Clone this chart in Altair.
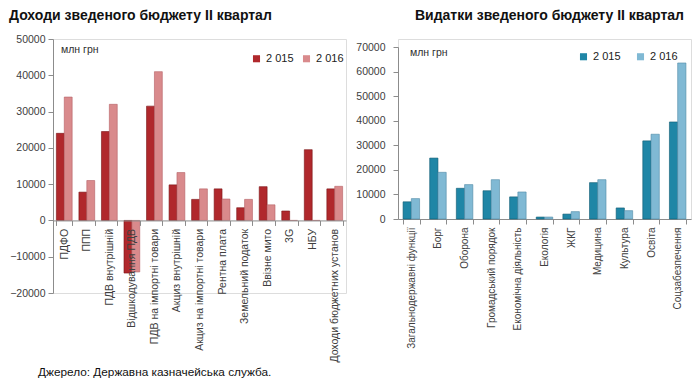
import altair as alt
import pandas as pd

years = ["2 015", "2 016"]

rev_cats = ["ПДФО", "ППП", "ПДВ внутрішній", "Відшкодування ПДВ", "ПДВ на імпортні товари",
            "Акциз внутрішній", "Акциз  на імпортні товари", "Рентна плата", "Земельний податок",
            "Ввізне мито", "3G", "НБУ", "Доходи бюджетних установ"]
rev_2015 = [24000, 7800, 24500, -14500, 31500, 9800, 5800, 8700, 3500, 9300, 2600, 19500, 8700]
rev_2016 = [34000, 11000, 32000, -14200, 41000, 13200, 8700, 5900, 5800, 4300, 0, 0, 9400]

exp_cats = ["Загальнодержавні функції", "Борг", "Оборона", "Громадський порядок",
            "Економічна діяльність", "Екологія", "ЖКГ", "Медицина", "Культура", "Освіта",
            "Соцзабезпечення"]
exp_2015 = [7000, 24800, 12500, 11500, 9000, 800, 2000, 14800, 4500, 31800, 39500]
exp_2016 = [8300, 19000, 14000, 16000, 11000, 800, 3000, 16000, 3400, 34500, 63500]

rev_df = pd.DataFrame({
    "cat": rev_cats * 2,
    "year": [years[0]] * len(rev_cats) + [years[1]] * len(rev_cats),
    "value": rev_2015 + rev_2016,
})
exp_df = pd.DataFrame({
    "cat": exp_cats * 2,
    "year": [years[0]] * len(exp_cats) + [years[1]] * len(exp_cats),
    "value": exp_2015 + exp_2016,
})

FONT = "Liberation Sans"
LABEL_COLOR = "#404040"
AXIS_COLOR = "#8c8c8c"


def text_layer(txt, x, y, size, align="left", weight="normal", color="#303030",
               baseline="middle"):
    return alt.Chart(pd.DataFrame({"t": [txt]})).mark_text(
        align=align, baseline=baseline, fontSize=size, font=FONT, color=color,
        fontWeight=weight
    ).encode(text="t:N", x=alt.value(x), y=alt.value(y))


# ---------- left chart ----------
LH = 254
LW = 293
left_bars = alt.Chart(rev_df).mark_bar(strokeWidth=0.6).encode(
    x=alt.X("cat:N", sort=rev_cats, title=None,
            scale=alt.Scale(paddingInner=0.3, paddingOuter=0.15),
            axis=alt.Axis(labelAngle=270, labelFontSize=10.5, labelColor=LABEL_COLOR,
                          labelFont=FONT, tickBand="extent", domainColor=AXIS_COLOR,
                          tickColor=AXIS_COLOR, offset=-LH * 2 / 7, labelPadding=3,
                          labelLimit=200, zindex=1)),
    xOffset=alt.XOffset("year:N", sort=years),
    y=alt.Y("value:Q", title=None,
            scale=alt.Scale(domain=[-20000, 50000], nice=False),
            axis=alt.Axis(values=[-20000, -10000, 0, 10000, 20000, 30000, 40000, 50000],
                          format="d", grid=False, labelFontSize=10.5, labelFont=FONT,
                          labelColor=LABEL_COLOR, domainColor=AXIS_COLOR, tickColor=AXIS_COLOR,
                          tickSize=5, labelPadding=3)),
    color=alt.Color("year:N", sort=years,
                    scale=alt.Scale(domain=years, range=["#b0282c", "#d98a8c"]),
                    legend=alt.Legend(title=None, orient="none", direction="horizontal",
                                      legendX=198, legendY=14, symbolType="square",
                                      symbolSize=50, labelFontSize=11, labelFont=FONT,
                                      labelColor="#222222", columnPadding=7,
                                      symbolStrokeWidth=0)),
    stroke=alt.Stroke("year:N", sort=years,
                      scale=alt.Scale(domain=years, range=["#7a1416", "#b66064"]),
                      legend=None),
)

left = alt.layer(
    left_bars,
    text_layer("млн грн", 8, 11, 10.5),
    text_layer("Доходи зведеного бюджету II квартал", -44, -23, 14, weight="bold",
               color="#111111"),
    text_layer("Джерело: Державна казначейська служба.", -15, 337, 11.8,
               color="#111111", baseline="alphabetic"),
).properties(width=LW, height=LH)

# ---------- right chart ----------
RTOP = 8
RH = 172
RW = 293
right_bars = alt.Chart(exp_df).mark_bar(strokeWidth=0.6).encode(
    x=alt.X("cat:N", sort=exp_cats, title=None,
            scale=alt.Scale(paddingInner=0.38, paddingOuter=0.19),
            axis=alt.Axis(labelAngle=270, labelFontSize=10, labelColor=LABEL_COLOR,
                          labelFont=FONT, tickBand="extent", domainColor=AXIS_COLOR,
                          tickColor=AXIS_COLOR, labelPadding=3, labelLimit=200)),
    xOffset=alt.XOffset("year:N", sort=years),
    y=alt.Y("value:Q", title=None,
            scale=alt.Scale(domain=[0, 70000], nice=False, range=[RH + RTOP, RTOP]),
            axis=alt.Axis(values=[0, 10000, 20000, 30000, 40000, 50000, 60000, 70000],
                          format="d", grid=False, labelFontSize=10.5, labelFont=FONT,
                          labelColor=LABEL_COLOR, domainColor=AXIS_COLOR, tickColor=AXIS_COLOR,
                          tickSize=5, labelPadding=8)),
    color=alt.Color("year:N", sort=years,
                    scale=alt.Scale(domain=years, range=["#1f86a6", "#80b9d4"]),
                    legend=alt.Legend(title=None, orient="none", direction="horizontal",
                                      legendX=180, legendY=12, symbolType="square",
                                      symbolSize=50, labelFontSize=11, labelFont=FONT,
                                      labelColor="#222222", columnPadding=14,
                                      symbolStrokeWidth=0)),
    stroke=alt.Stroke("year:N", sort=years,
                      scale=alt.Scale(domain=years, range=["#0f5a72", "#4f8aa6"]),
                      legend=None),
)

right = alt.layer(
    right_bars,
    text_layer("млн грн", 12, 14, 10.5),
    text_layer("Видатки зведеного бюджету II квартал", RW - 7, -23, 14, align="right",
               weight="bold", color="#111111"),
).properties(width=RW, height=RH + RTOP)

chart = alt.hconcat(left, right, spacing=8).resolve_scale(
    color="independent", stroke="independent", x="independent", y="independent",
    xOffset="independent"
).resolve_legend(color="independent", stroke="independent").properties(
    padding={"left": 0, "top": 0, "right": 0, "bottom": 0}
).configure_view(stroke=None).configure(background="white")

chart.save("out.html", embed_options={"renderer": "svg", "actions": False})
